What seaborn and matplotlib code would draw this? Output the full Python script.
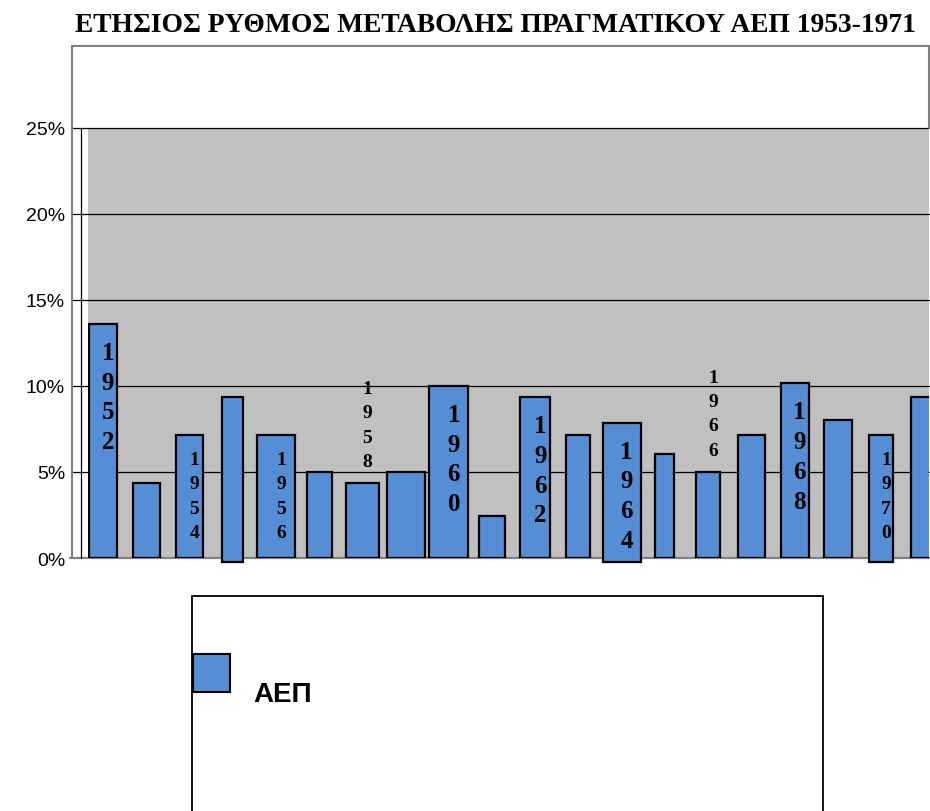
import matplotlib
matplotlib.use("Agg")
import matplotlib.pyplot as plt
import pandas as pd
import seaborn as sns
from matplotlib.patches import Rectangle
from matplotlib.lines import Line2D
from matplotlib.ticker import FuncFormatter

# Annual real GDP growth (%), 1952-1971
years = list(range(1952, 1972))
growth = [13.6, 4.35, 7.15, 9.35, 7.15, 5.0, 4.35, 5.0, 10.0, 2.45,
          9.35, 7.15, 7.85, 6.05, 5.0, 7.15, 10.15, 8.0, 7.15, 9.35]
labelled_years = [1952, 1954, 1956, 1958, 1960, 1962, 1964, 1966, 1968, 1970]
yticks = [0, 5, 10, 15, 20, 25]
title = "ΕΤΗΣΙΟΣ ΡΥΘΜΟΣ ΜΕΤΑΒΟΛΗΣ ΠΡΑΓΜΑΤΙΚΟΥ ΑΕΠ 1953-1971"
series_name = "ΑΕΠ"

# styling
BAR_COLOR = "#558ed5"
PLOT_BG = "#c0c0c0"
FRAME = "#808080"
bar_px_widths = [28, 27, 27, 21, 38, 25, 33, 38, 39, 26,
                 30, 24, 38, 19, 24, 27, 28, 28, 24, 27]
dipped = {1955, 1964, 1970}
big_labels = {1952, 1960, 1962, 1964, 1968}
above_labels = {1958, 1966}

sns.set_style("white")
plt.rcParams["font.family"] = ["Liberation Sans", "DejaVu Sans"]
plt.rcParams["text.color"] = "black"
plt.rcParams["ytick.color"] = "black"

W, H = 930, 812
fig = plt.figure(figsize=(W / 100, H / 100), dpi=100)


def fx(x):
    return x / W


def fy(y):
    return 1 - y / H


ax_left, ax_right, ax_top, ax_bottom = 88, 929, 129, 559
ax = fig.add_axes([fx(ax_left), fy(ax_bottom),
                   fx(ax_right) - fx(ax_left), fy(ax_top) - fy(ax_bottom)])
ax.set_facecolor(PLOT_BG)

df = pd.DataFrame({"year": [str(y) for y in years], "growth": growth})
sns.barplot(data=df, x="year", y="growth", color=BAR_COLOR, saturation=1,
            edgecolor="black", linewidth=1.6, ax=ax, zorder=3)

px_per_unit = 43.22
x0 = -15 / px_per_unit
ax.set_xlim(x0, x0 + (ax_right - ax_left) / px_per_unit)
ax.set_ylim(0, 25)

for p, yr, v, wpx in zip(ax.patches, years, growth, bar_px_widths):
    c = p.get_x() + p.get_width() / 2
    w = wpx / px_per_unit
    p.set_x(c - w / 2)
    p.set_width(w)
    if yr in dipped:
        p.set_y(-0.25)
        p.set_height(v + 0.25)
        p.set_clip_on(False)

# gridlines reaching out to the chart frame
ext = (72 - ax_left) / (ax_right - ax_left)
for t in yticks[1:]:
    ax.axhline(t, xmin=ext, xmax=1, color="black", lw=0.9, zorder=1, clip_on=False)
ax.axhline(0, xmin=(70 - ax_left) / (ax_right - ax_left), xmax=1,
           color=FRAME, lw=1.6, zorder=2, clip_on=False)

for s in ax.spines.values():
    s.set_visible(False)
ax.set_xticks([])
ax.set_xlabel("")
ax.set_ylabel("")
ax.set_yticks(yticks)
ax.yaxis.set_major_formatter(FuncFormatter(lambda v, _: f"{v:.0f}%"))
ax.tick_params(axis="y", length=0, pad=16.5, labelsize=14, labelcolor="black")

# year labels written vertically, one digit per line
for yr in labelled_years:
    i = years.index(yr)
    v = growth[i]
    big = yr in big_labels
    size = 18 if big else 14
    ls = 1.38 if big else 1.57
    txt = "\n".join(str(yr))
    if yr in above_labels:
        ax.annotate(txt, xy=(i, v), xytext=(3.6, 9.5), textcoords="offset points",
                    ha="center", va="bottom", fontsize=size, fontweight="bold",
                    family="Liberation Serif", linespacing=ls, zorder=5)
    else:
        ax.annotate(txt, xy=(i, v), xytext=(3.6, -12 if big else -11.5),
                    textcoords="offset points",
                    ha="center", va="top", fontsize=size, fontweight="bold",
                    family="Liberation Serif", linespacing=ls, zorder=5)

# chart frame and value axis line
fig.add_artist(Line2D([fx(72), fx(72)], [fy(47), fy(559)], color=FRAME, lw=1.5))
fig.add_artist(Line2D([fx(72), fx(930)], [fy(47), fy(47)], color=FRAME, lw=1.5))
fig.add_artist(Line2D([fx(929), fx(929)], [fy(47), fy(129)], color=FRAME, lw=1.5))
fig.add_artist(Line2D([fx(81), fx(81)], [fy(129), fy(559)], color="black", lw=0.9))

# title
fig.text(fx(495), fy(26), title, ha="center", va="center",
         family="Liberation Serif", fontweight="bold", fontsize=19.8)

# legend box
fig.add_artist(Rectangle((fx(192), fy(840)), fx(823) - fx(192), fy(597) - fy(840),
                         facecolor="white", edgecolor="black", lw=1.3))
fig.add_artist(Rectangle((fx(193), fy(693)), fx(230) - fx(193), fy(655) - fy(693),
                         facecolor=BAR_COLOR, edgecolor="black", lw=1.5))
fig.text(fx(253), fy(702), series_name, ha="left", va="baseline",
         fontsize=20, fontweight="bold")

fig.savefig("out.png", dpi=100)
